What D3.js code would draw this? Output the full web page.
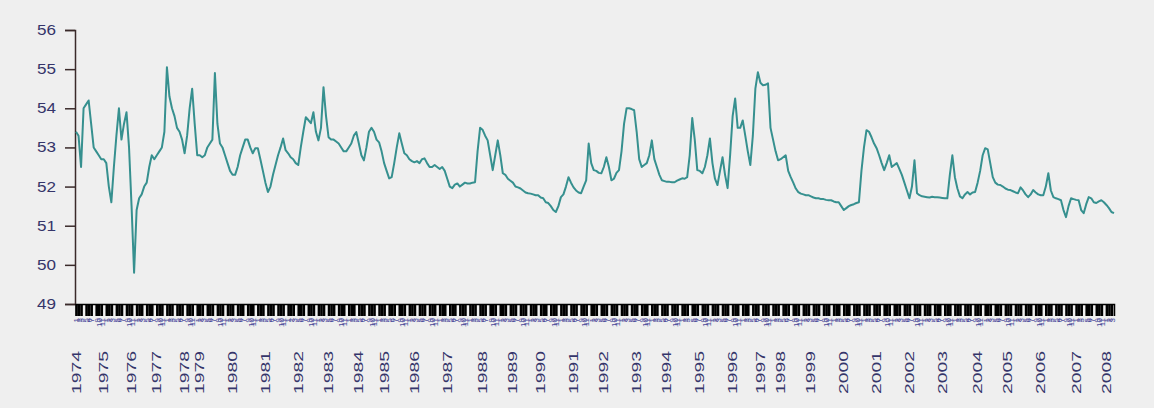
<!DOCTYPE html>
<html><head><meta charset="utf-8">
<script src="https://cdn.jsdelivr.net/npm/d3@7/dist/d3.min.js"></script>
<style>
html,body{margin:0;padding:0;background:#efefef;}
svg{display:block;font-family:"Liberation Sans",Arial,sans-serif;}
</style></head>
<body>
<svg id="chart" width="1154" height="408"></svg>
<script>
// ---- data (monthly, Jan 1974 .. Apr 2008) ----
const startYear = 1974;
const values = [
53.4,53.3,52.5,54.0,54.1,54.2,53.6,53.0,52.9,52.8,52.7,52.7,
52.6,52.0,51.6,52.5,53.3,54.0,53.2,53.6,53.9,53.0,51.5,49.8,
51.4,51.7,51.8,52.0,52.1,52.5,52.8,52.7,52.8,52.9,53.0,53.4,
55.05,54.3,54.0,53.8,53.5,53.4,53.2,52.85,53.3,54.0,54.5,53.6,
52.8,52.8,52.75,52.8,53.0,53.1,53.2,54.9,53.6,53.1,53.0,52.8,
52.6,52.4,52.3,52.3,52.5,52.8,53.0,53.2,53.2,53.0,52.85,52.98,
52.98,52.7,52.4,52.1,51.86,52.0,52.3,52.55,52.8,53.0,53.23,52.93,
52.85,52.75,52.7,52.6,52.55,53.0,53.4,53.77,53.7,53.62,53.9,53.4,
53.18,53.5,54.54,53.8,53.26,53.2,53.2,53.15,53.1,53.0,52.9,52.9,
53.0,53.1,53.3,53.39,53.1,52.8,52.67,53.0,53.4,53.5,53.4,53.2,
53.13,52.9,52.6,52.4,52.21,52.24,52.6,53.0,53.36,53.1,52.85,52.8,
52.7,52.65,52.62,52.65,52.6,52.7,52.72,52.6,52.5,52.5,52.55,52.5,
52.45,52.5,52.4,52.2,52.0,51.96,52.05,52.08,52.0,52.05,52.1,52.08,
52.08,52.1,52.11,52.9,53.5,53.45,53.3,53.18,52.8,52.42,52.8,53.18,
52.8,52.34,52.3,52.2,52.15,52.1,52.0,51.98,51.95,51.9,51.85,51.83,
51.82,51.8,51.78,51.78,51.72,51.7,51.6,51.58,51.5,51.4,51.35,51.5,
51.73,51.8,52.0,52.24,52.1,51.98,51.9,51.85,51.83,52.0,52.16,53.1,
52.6,52.42,52.4,52.35,52.34,52.5,52.75,52.5,52.16,52.2,52.35,52.42,
52.9,53.6,54.0,54.0,53.98,53.95,53.4,52.7,52.5,52.55,52.6,52.8,
53.18,52.7,52.5,52.3,52.16,52.14,52.12,52.12,52.11,52.11,52.15,52.18,
52.21,52.2,52.24,52.8,53.75,53.2,52.42,52.4,52.34,52.5,52.8,53.23,
52.6,52.2,52.04,52.4,52.75,52.3,51.96,52.8,53.8,54.25,53.5,53.5,
53.69,53.3,52.9,52.55,53.3,54.5,54.92,54.65,54.59,54.6,54.64,53.5,
53.2,52.9,52.67,52.7,52.75,52.8,52.4,52.24,52.1,51.95,51.86,51.82,
51.8,51.78,51.78,51.75,51.72,51.7,51.7,51.68,51.68,51.66,51.65,51.65,
51.62,51.6,51.6,51.5,51.4,51.45,51.5,51.53,51.55,51.58,51.6,52.4,
53.0,53.44,53.4,53.26,53.1,52.98,52.8,52.6,52.42,52.6,52.8,52.5,
52.55,52.6,52.45,52.3,52.1,51.9,51.7,52.0,52.67,51.83,51.78,51.75,
51.74,51.73,51.72,51.74,51.73,51.73,51.72,51.71,51.7,51.7,52.3,52.8,
52.24,51.95,51.75,51.7,51.8,51.86,51.8,51.85,51.86,52.1,52.4,52.8,
52.98,52.95,52.6,52.24,52.1,52.05,52.04,52.0,51.95,51.92,51.91,51.88,
51.85,51.83,51.98,51.9,51.8,51.73,51.8,51.91,51.85,51.8,51.78,51.78,
52.0,52.34,51.9,51.73,51.7,51.68,51.65,51.4,51.22,51.5,51.7,51.68,
51.66,51.65,51.4,51.32,51.55,51.73,51.7,51.6,51.58,51.62,51.65,51.6,
51.53,51.45,51.35,51.32
];
const yTicks = [49,50,51,52,53,54,55,56];
const yearLabels = [1974,1975,1976,1977,1978,1979,1980,1981,1982,1983,1984,1985,1986,1987,1988,1989,1990,1991,1992,1993,1994,1995,1996,1997,1998,1999,2000,2001,2002,2003,2004,2005,2006,2007,2008];
// index of the monthly point each year label is attached to
const yearLabelIndex = [0,11,22,32,43,49,62,75,88,100,112,122,134,147,161,173,184,197,209,222,234,247,260,271,279,291,304,317,330,343,357,369,382,396,408];

// ---- chart ----
const svg = d3.select("#chart");
const idx = d3.range(values.length);
const x = d3.scalePoint().domain(idx).range([76, 1114]);
const y = d3.scaleLinear().domain([49, 56]).range([304, 30]);

// y axis
const gy = svg.append("g").attr("transform","translate(75,0)")
  .call(d3.axisLeft(y).tickValues(yTicks).tickSize(10).tickPadding(9).tickFormat(d3.format("d")));
gy.select(".domain").attr("stroke","#3a2a2a").attr("stroke-width",1.5);
gy.selectAll(".tick line").attr("stroke","#3a2a2a").attr("stroke-width",1.5);
gy.selectAll(".tick text").attr("fill","#35356a").attr("font-size",14)
  .attr("textLength",19).attr("lengthAdjust","spacingAndGlyphs");

// x axis: dense monthly ticks with month numbers
const tickIdx = idx.filter(i => i % 4 !== 3);
const gx = svg.append("g").attr("transform","translate(0,304)")
  .call(d3.axisBottom(x).tickValues(tickIdx).tickSize(12).tickPadding(2)
    .tickFormat(i => String((i % 12) + 1)));
gx.select(".domain").attr("stroke","#000").attr("stroke-width",1.5);
gx.selectAll(".tick line").attr("stroke","#000").attr("stroke-width",2.6);
gx.selectAll(".tick text").attr("fill","#4a4a9a").attr("font-size",8)
  .attr("text-anchor","end").attr("dy","0.35em")
  .attr("transform","translate(0,14) rotate(-90)").attr("x",0).attr("y",0);

// year labels
svg.append("g").selectAll("text").data(yearLabels).join("text")
  .attr("transform",(d,k)=>`translate(${x(yearLabelIndex[k])},351) rotate(-90)`)
  .attr("text-anchor","end").attr("dy","0.36em")
  .attr("font-size",12.5).attr("fill","#35356a")
  .attr("textLength",43).attr("lengthAdjust","spacingAndGlyphs")
  .text(d=>d);

// line
svg.append("path").datum(values)
  .attr("fill","none").attr("stroke","#36908f").attr("stroke-width",2)
  .attr("stroke-linejoin","round")
  .attr("d", d3.line().x((d,i)=>x(i)).y(d=>y(d)));
</script>
</body></html>
